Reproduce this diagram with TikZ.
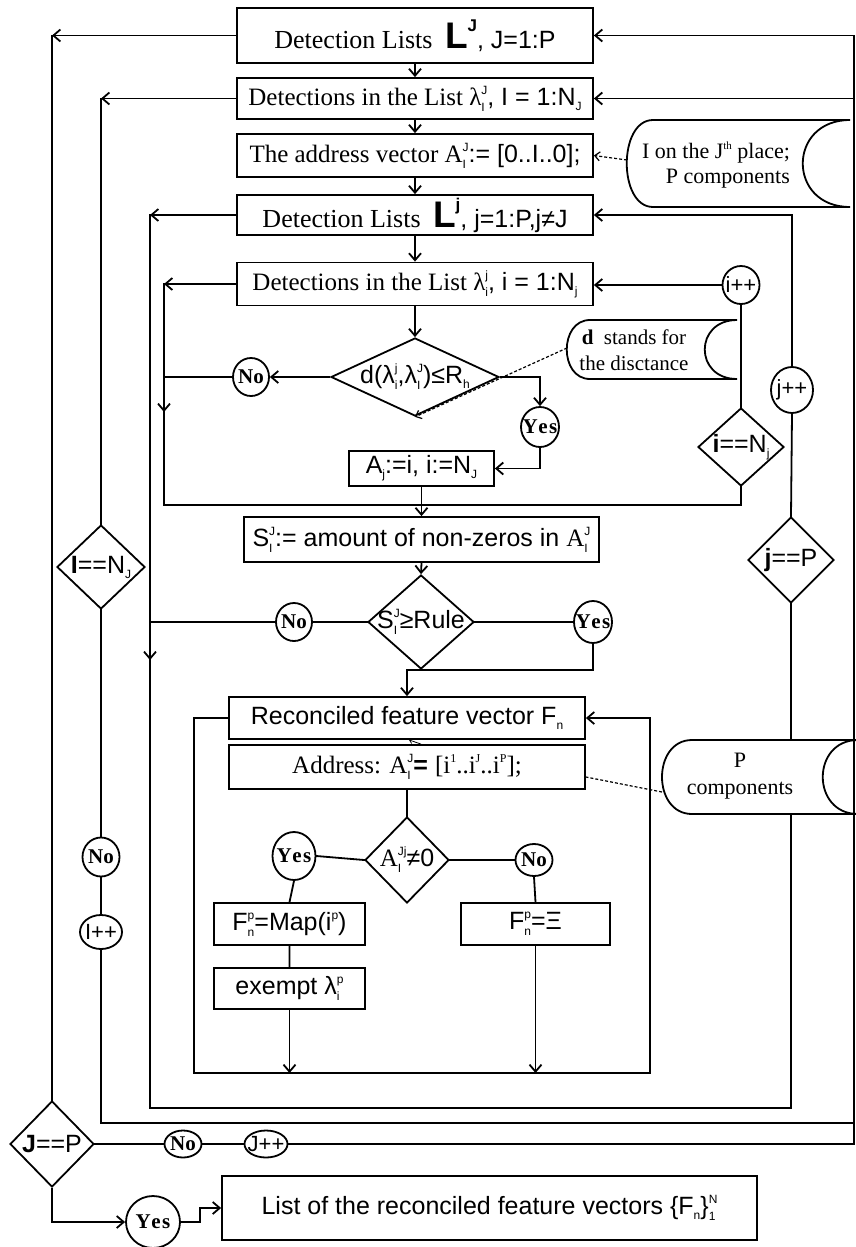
\documentclass[tikz,border=0pt]{standalone}
\usepackage{fontspec}
\setmainfont{Liberation Serif}
\setsansfont{Liberation Sans}
\usetikzlibrary{arrows.meta,shapes.geometric}
\newcommand{\fz}[1]{\fontsize{#1}{#1}\selectfont}
\newsavebox\supbx
\newsavebox\subbx
\newcommand{\SU}[2]{\sbox\supbx{\fz{12}#1}\sbox\subbx{\fz{12}#2}%
  \ifdim\wd\supbx>\wd\subbx
    \rlap{\raisebox{-6pt}{\usebox\subbx}}\raisebox{11pt}{\usebox\supbx}%
  \else
    \rlap{\raisebox{11pt}{\usebox\supbx}}\raisebox{-6pt}{\usebox\subbx}%
  \fi}
\newcommand{\SP}[1]{\raisebox{11pt}{\fz{12}#1}}
\newcommand{\SB}[1]{\raisebox{-5pt}{\fz{12}#1}}
\begin{document}
\begin{tikzpicture}[x=1pt,y=-1pt,
  ln/.style={line width=1.8pt, line cap=rect},
  ar/.style={line width=1.8pt, -{Straight Barb[length=7pt,width=12pt]}},
  dl/.style={line width=1.2pt, densely dashed},
  dar/.style={line width=1.2pt, densely dashed, -{Straight Barb[length=5pt,width=9pt]}},
  bx/.style 2 args={draw, line width=1.8pt, rectangle, inner sep=0pt, minimum width=#1, minimum height=#2, font=\fz{25}},
  dm/.style 2 args={draw, diamond, line width=1.8pt, inner sep=0pt, minimum width=#1, minimum height=#2},
  cc/.style 2 args={draw, ellipse, line width=1.8pt, inner sep=0pt, minimum width=#1, minimum height=#2},
  ann/.style={draw, line width=1.8pt, fill=white},
  dtx/.style={font=\sffamily\fz{25}, inner sep=0pt},
  ctx/.style={font=\bfseries\fz{21}, inner sep=0pt},
  ptx/.style={font=\sffamily\fz{22}, inner sep=0pt}
]
\useasboundingbox (0,0) rectangle (856,1247);
\fill[white] (0,0) rectangle (856,1247);

% ---------- boxes ----------
\node[bx={356pt}{55pt}] (b1) at (415,35.5) {{\fz{26}Detection Lists}\enspace{\sffamily\bfseries\fz{37}L\raisebox{17pt}{\fz{17}J}}{\sffamily\fz{25}, J=1:P}};
\node[bx={356pt}{41pt}] (b2) at (415,98.5) {Detections in the List λ\SU{\sffamily J}{\sffamily I}{\sffamily , I = 1:N\SB{J}}};
\node[bx={356pt}{43pt}] (b3) at (415,155.5) {The address vector A\SU{\sffamily J}{\sffamily I}{\sffamily := [0..I..0];}};
\node[bx={356pt}{40pt}] (b4) at (415,215) {{\fz{26}Detection Lists}\enspace{\sffamily\bfseries\fz{37}L\raisebox{17pt}{\fz{17}j}}{\sffamily\fz{25}, j=1:P,j≠J}};
\node[bx={356pt}{43pt}] (b5) at (415,284) {Detections in the List λ\SU{\sffamily j}{\sffamily i}{\sffamily , i = 1:N\SB{j}}};
\node[bx={145pt}{35pt}, font=\sffamily\fz{25}] (aj) at (421.5,468.5) {A\SB{j}:=i, i:=N\SB{J}};
\node[bx={355pt}{45pt}] (sb) at (421.5,539.5) {{\sffamily S\SU{J}{I}:= amount of non-zeros in }A\SU{\sffamily J}{\sffamily I}};
\node[bx={356pt}{42pt}, font=\sffamily\fz{25}] (rf) at (407,718) {Reconciled feature vector F\SB{n}};
\node[bx={356pt}{44pt}] (ad) at (407,767) {Address: A\SU{\sffamily J}{\sffamily I}{\sffamily\bfseries = }[i\SP{1}..i\SP{J}..i\SP{P}];};
\node[bx={151pt}{42pt}, font=\sffamily\fz{25}] (mp) at (289.5,924) {F\SU{p}{n}=Map(i\SP{p})};
\node[bx={149pt}{42pt}, font=\sffamily\fz{25}] (xi) at (535.5,924) {F\SU{p}{n}=Ξ};
\node[bx={151pt}{41pt}, font=\sffamily\fz{25}] (ex) at (289.5,988.5) {exempt λ\SU{p}{i}};
\node[bx={535pt}{64pt}, font=\sffamily\fz{25}] (fin) at (489.5,1208) {List of the reconciled feature vectors \{F\SB{n}\}\SU{N}{1}};

% ---------- diamonds ----------
\node[dm={168pt}{78pt}] (dd) at (415,377) {};
\node[dtx] (ddt) at (415,377) {d(λ\SU{j}{i},λ\SU{J}{I})≤R\SB{h}};
\node[dm={106pt}{94pt}] (sr) at (421,622) {};
\node[dtx] (srt) at (421,622) {S\SU{J}{I}≥Rule};
\node[dm={84pt}{86pt}] (an) at (407,860) {};
\node[font=\fz{25}, inner sep=0pt] (ant) at (407,860) {A\SU{\sffamily Jj}{\sffamily I}{\sffamily ≠0}};
\node[dm={86pt}{78pt}] (inj) at (741,447) {};
\node[dtx] (injt) at (741,447) {\textbf{i}==N\SB{j}};
\node[dm={86pt}{86pt}] (jp) at (791,560) {};
\node[dtx] (jpt) at (791,560) {\textbf{j}==P};
\node[dm={88pt}{84pt}] (INJ) at (101,567) {};
\node[dtx] (INJt) at (101,567) {\textbf{I}==N\SB{J}};
\node[dm={84pt}{86pt}] (JP) at (52,1144) {};
\node[dtx] (JPt) at (52,1144) {\textbf{J}==P};

% ---------- circles ----------
\node[cc={36pt}{38pt}] (nod) at (251,377) {};
\node[ctx] (nodt) at (251,377) {No};
\node[cc={38pt}{40pt}] (yesd) at (540,427) {};
\node[ctx] (yesdt) at (540,427) {Y\kern.5pt e\kern1.5pt s};
\node[cc={37pt}{38pt}] (ipp) at (741,285) {};
\node[ptx] (ippt) at (741,285) {i++};
\node[cc={42pt}{46pt}] (jpp) at (792,390) {};
\node[ptx] (jppt) at (792,390) {j++};
\node[cc={36pt}{38pt}] (nos) at (294,622) {};
\node[ctx] (nost) at (294,622) {No};
\node[cc={38pt}{42pt}] (yess) at (593,622) {};
\node[ctx] (yesst) at (593,622) {Y\kern.5pt e\kern1.5pt s};
\node[cc={37pt}{39pt}] (noI) at (101,857) {};
\node[ctx] (noIt) at (101,857) {No};
\node[cc={42pt}{34pt}] (Ipp) at (101,932) {};
\node[ptx] (Ippt) at (101,932) {I++};
\node[cc={43pt}{48pt}] (yesa) at (294,856) {};
\node[ctx] (yesat) at (294,856) {Y\kern.5pt e\kern1.5pt s};
\node[cc={37pt}{32pt}] (noa) at (534,860) {};
\node[ctx] (noat) at (534,860) {No};
\node[cc={37pt}{27pt}] (noJ) at (183,1144) {};
\node[ctx] (noJt) at (183,1144) {No};
\node[cc={43pt}{27pt}] (Jpp) at (266,1144) {};
\node[ptx] (Jppt) at (266,1144) {J++};
\node[cc={54pt}{52pt}] (yesJ) at (153,1222) {};
\node[ctx] (yesJt) at (153,1222) {Y\kern.5pt e\kern1.5pt s};

% ---------- helper coordinates ----------
\coordinate (rJ) at (854,0);
\coordinate (rI) at (854,0);
\coordinate (yI) at (0,1123);
\coordinate (yj) at (0,1108);
\coordinate (yf) at (0,1073);
\coordinate (yi) at (0,505);
\coordinate (xj) at (150,0);
\coordinate (xil) at (164,0);
\coordinate (xf1) at (194,0);
\coordinate (xf2) at (650,0);
\coordinate (xk) at (200,0);
\coordinate (ima) at (164,412);
\coordinate (jma) at (150,660);

% ---------- main chain ----------
\draw[ar] (b1.south) -- (b2.north);
\draw[ar] (b2.south) -- (b3.north);
\draw[ar] (b3.south) -- (b4.north);
\draw[ar] (b4.south) -- (b5.north);
\draw[ar] (b5.south) -- (dd.north);

% J loop
\draw[ar] (b1.west) -- (JP.north |- b1.west);
\draw[ln] (JP.north |- b1.west) -- (JP.north);
\draw[ln] (JP.east) -- (noJ.west) (noJ.east) -- (Jpp.west);
\draw[ar] (Jpp.east) -- (rJ |- JP.east) -- (rJ |- b1.east) -- (b1.east);

% I loop
\draw[ar] (b2.west) -- (INJ.north |- b2.west);
\draw[ln] (INJ.north |- b2.west) -- (INJ.north);
\draw[ln] (INJ.south) -- (noI.north) (noI.south) -- (Ipp.north);
\draw[ar] (Ipp.south) -- (Ipp.south |- yI) -- (rI |- yI) -- (rI |- b2.east) -- (b2.east);

% j loop
\draw[ar] (b4.west) -- (xj |- b4.west);
\draw[ln] (xj |- b4.west) -- (xj |- yj) -- (jp.south |- yj) -- (jp.south);
\draw[ln] (jp.north) -- (jpp.south);
\draw[ar] (jpp.north) -- (jpp.north |- b4.east) -- (b4.east);

% i loop
\draw[ar] (b5.west) -- (xil |- b5.west);
\draw[ln] (xil |- b5.west) -- (xil |- yi) -- (inj.south |- yi) -- (inj.south);
\draw[ar] (xil |- nod) -- (ima);
\draw[ln] (inj.north) -- (ipp.south);
\draw[ar] (ipp.west) -- (b5.east |- ipp.west);

% distance test
\draw[ar] (dd.west) -- (nod.east);
\draw[ln] (nod.west) -- (xil |- nod);
\draw[ar] (dd.east) -- (yesd.north |- dd.east) -- (yesd.north);
\draw[ar] (yesd.south) -- (yesd.south |- aj.east) -- (aj.east);
\draw[ar] (aj.south) -- (sb.north);
\draw[ar] (sb.south) -- (sr.north);

% rule test
\draw[ln] (sr.west) -- (nos.east) (nos.west) -- (xj |- sr.west);
\draw[ar] (xj |- sr.west) -- (jma);
\draw[ln] (sr.east) -- (yess.west);
\draw[ar] (yess.south) -- (yess.south |- sr.south) -- (rf.north |- sr.south) -- (rf.north);

% inner loop
\draw[ar] (rf.west) -- (xf1 |- rf.west) -- (xf1 |- yf) -- (xf2 |- yf) -- (xf2 |- rf.east) -- (rf.east);
\draw[line width=0.8pt, -{Straight Barb[length=3pt,width=5pt]}] ([xshift=14pt]ad.north) -- ([xshift=2pt]rf.south);
\draw[ln] (ad.south) -- (an.north);
\draw[ln] (an.west) -- (yesa.east) (an.east) -- (noa.west);
\draw[ln] (yesa.south) -- (mp.north) (mp.south) -- (ex.north);
\draw[ar] (ex.south) -- (ex.south |- yf);
\draw[ln] (noa.south) -- (xi.north);
\draw[ar] (xi.south) -- (xi.south |- yf);

% final
\draw[ar] (JP.south) -- (JP.south |- yesJ.west) -- (yesJ.west);
\draw[ar] (yesJ.east) -- (xk |- yesJ.east) -- (xk |- fin.west) -- (fin.west);

% ---------- annotations ----------
\draw[ann] (653,120) -- (850,120) .. controls (787,120) and (787,207) .. (850,207) -- (653,207) .. controls (618,207) and (618,120) .. (653,120) -- cycle;
\node[font=\fontsize{22}{25}\selectfont, align=right, inner sep=0pt] (t1) at (716,165) {I on the J\raisebox{9pt}{\fz{11}th} place;\\P components};
\draw[ann] (590,320) -- (737,320) .. controls (694,320) and (694,379) .. (737,379) -- (590,379) .. controls (559,379) and (559,320) .. (590,320) -- cycle;
\node[font=\fontsize{21}{26}\selectfont, align=center, inner sep=0pt] (t2) at (634,350) {\textbf{d}\enspace stands for\\the disctance};
\draw[ann] (692,740) -- (858,740) .. controls (811,740) and (811,814) .. (858,814) -- (692,814) .. controls (652,814) and (652,740) .. (692,740) -- cycle;
\node[font=\fontsize{22}{27}\selectfont, align=center, inner sep=0pt] (t3) at (740,776) {P\\components};

\coordinate (a1) at (627,160);
\coordinate (a2) at (567,348);
\coordinate (a3) at (662,792);
\draw[dar] (a1) -- (b3.east);
\draw[dar] (a2) -- (dd.south);
\draw[dl] (a3) -- ([yshift=-10pt]ad.east);
\end{tikzpicture}
\end{document}
